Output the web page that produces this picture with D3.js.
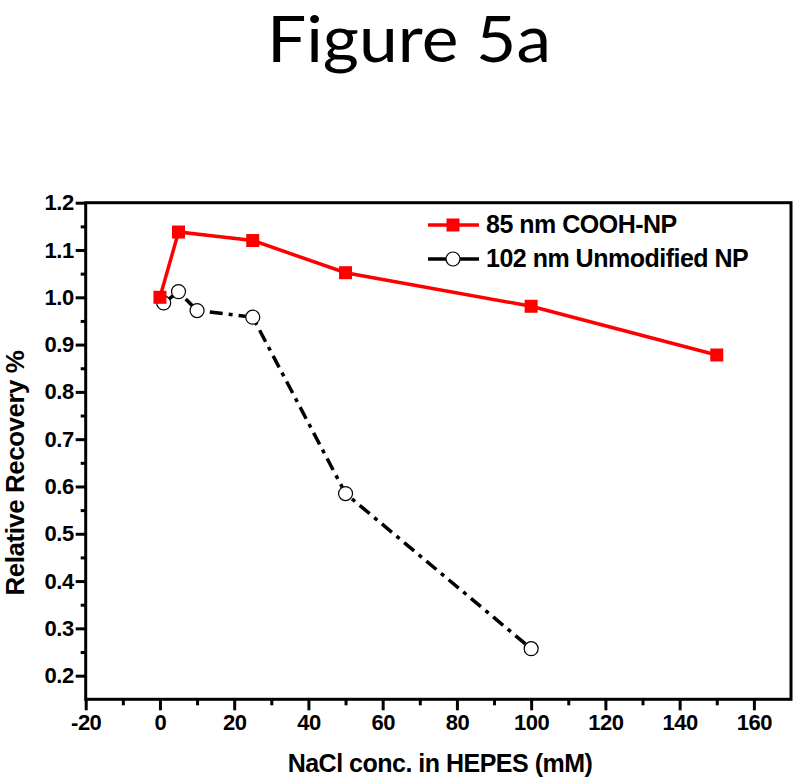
<!DOCTYPE html>
<html>
<head>
<meta charset="utf-8">
<script src="https://cdn.jsdelivr.net/npm/d3@7"></script>
<style>
  body { margin: 0; background: #fff; }
  svg text { font-family: "Liberation Sans", Arial, sans-serif; }
</style>
</head>
<body>
<div id="chart"></div>
<script>
// Data
const cooh_x = [0, 5, 25, 50, 100, 150];
const cooh_y = [1.0, 1.138, 1.12, 1.052, 0.981, 0.878];
const unmod_x = [1, 5, 10, 25, 50, 100];
const unmod_y = [0.988, 1.012, 0.972, 0.958, 0.585, 0.257];
const seriesNames = ["85 nm COOH-NP", "102 nm Unmodified NP"];
const xMajor = [-20, 0, 20, 40, 60, 80, 100, 120, 140, 160];
const xMinor = [-10, 10, 30, 50, 70, 90, 110, 130, 150];
const yMajor = [0.2, 0.3, 0.4, 0.5, 0.6, 0.7, 0.8, 0.9, 1.0, 1.1, 1.2];
const yMinor = [0.25, 0.35, 0.45, 0.55, 0.65, 0.75, 0.85, 0.95, 1.05, 1.15];

const svg = d3
  .select("#chart")
  .append("svg")
  .attr("width", 800)
  .attr("height", 784);

// Scales
const x = d3.scaleLinear().domain([-20, 170]).range([85.7, 791]);
const y = d3.scaleLinear().domain([0.15, 1.2]).range([699.3, 202.7]);

// Title
svg
  .append("text")
  .attr("x", 409)
  .attr("y", 62)
  .attr("text-anchor", "middle")
  .style("font-family", "Lato, 'Open Sans', sans-serif")
  .style("font-size", "64px")
  .attr("textLength", 284)
  .attr("lengthAdjust", "spacingAndGlyphs")
  .text("Figure 5a");

// Axes (major + minor ticks)
const styleAxis = (g) => {
  g.select(".domain").remove();
  g.selectAll("line").attr("stroke", "#000").attr("stroke-width", 3);
};

svg
  .append("g")
  .attr("transform", `translate(0,${y(0.15)})`)
  .call(d3.axisBottom(x).tickValues(xMinor).tickSize(6).tickFormat(""))
  .call(styleAxis);

svg
  .append("g")
  .attr("transform", `translate(0,${y(0.15)})`)
  .call(d3.axisBottom(x).tickValues(xMajor).tickSize(11).tickPadding(4).tickFormat((d) => String(d)))
  .call(styleAxis)
  .selectAll("text")
  .attr("fill", "#000")
  .style("font-size", "22px")
  .style("font-weight", "bold")
  .style("letter-spacing", "-0.5px");

svg
  .append("g")
  .attr("transform", `translate(${x(-20)},0)`)
  .call(d3.axisLeft(y).tickValues(yMinor).tickSize(5).tickFormat(""))
  .call(styleAxis);

svg
  .append("g")
  .attr("transform", `translate(${x(-20)},0)`)
  .call(d3.axisLeft(y).tickValues(yMajor).tickSize(10).tickPadding(2).tickFormat(d3.format(".1f")))
  .call(styleAxis)
  .selectAll("text")
  .attr("fill", "#000")
  .style("font-size", "22px")
  .style("font-weight", "bold")
  .style("letter-spacing", "-0.5px");

// Frame
svg
  .append("rect")
  .attr("x", x(-20))
  .attr("y", y(1.2))
  .attr("width", x(170) - x(-20))
  .attr("height", y(0.15) - y(1.2))
  .attr("fill", "none")
  .attr("stroke", "#000")
  .attr("stroke-width", 3);

// Axis titles
svg
  .append("text")
  .attr("x", 440)
  .attr("y", 772)
  .attr("text-anchor", "middle")
  .style("font-size", "25px")
  .style("font-weight", "bold")
  .style("letter-spacing", "-0.5px")
  .text("NaCl conc. in HEPES (mM)");

svg
  .append("text")
  .attr("transform", "translate(24,473) rotate(-90)")
  .attr("text-anchor", "middle")
  .style("font-size", "26px")
  .style("font-weight", "bold")
  .style("letter-spacing", "-0.5px")
  .text("Relative Recovery %");

// Lines
const line = d3
  .line()
  .x((d) => x(d[0]))
  .y((d) => y(d[1]));

const unmod = unmod_x.map((v, i) => [v, unmod_y[i]]);
const cooh = cooh_x.map((v, i) => [v, cooh_y[i]]);

svg
  .append("path")
  .datum(unmod)
  .attr("d", line)
  .attr("fill", "none")
  .attr("stroke", "#000")
  .attr("stroke-width", 3.5)
  .attr("stroke-dasharray", "13,6,4,6");

svg
  .selectAll(".unmod")
  .data(unmod)
  .enter()
  .append("circle")
  .attr("class", "unmod")
  .attr("cx", (d) => x(d[0]))
  .attr("cy", (d) => y(d[1]))
  .attr("r", 7)
  .attr("fill", "#fff")
  .attr("stroke", "#000")
  .attr("stroke-width", 1.2);

svg
  .append("path")
  .datum(cooh)
  .attr("d", line)
  .attr("fill", "none")
  .attr("stroke", "#ff0000")
  .attr("stroke-width", 3.5);

svg
  .selectAll(".cooh")
  .data(cooh)
  .enter()
  .append("rect")
  .attr("class", "cooh")
  .attr("x", (d) => x(d[0]) - 6.5)
  .attr("y", (d) => y(d[1]) - 6.5)
  .attr("width", 13)
  .attr("height", 13)
  .attr("fill", "#ff0000");

// Legend
const legend = svg.append("g");

legend
  .append("line")
  .attr("x1", 428).attr("x2", 479)
  .attr("y1", 225).attr("y2", 225)
  .attr("stroke", "#ff0000")
  .attr("stroke-width", 3.5);
legend
  .append("rect")
  .attr("x", 446.5).attr("y", 218.5)
  .attr("width", 13).attr("height", 13)
  .attr("fill", "#ff0000");
legend
  .append("text")
  .attr("x", 486).attr("y", 233)
  .style("font-size", "25px")
  .style("font-weight", "bold")
  .style("letter-spacing", "-0.5px")
  .text(seriesNames[0]);

legend
  .append("line")
  .attr("x1", 428).attr("x2", 479)
  .attr("y1", 259).attr("y2", 259)
  .attr("stroke", "#000")
  .attr("stroke-width", 3.5);
legend
  .append("circle")
  .attr("cx", 453).attr("cy", 259)
  .attr("r", 7)
  .attr("fill", "#fff")
  .attr("stroke", "#000")
  .attr("stroke-width", 1.2);
legend
  .append("text")
  .attr("x", 486).attr("y", 267)
  .style("font-size", "25px")
  .style("font-weight", "bold")
  .style("letter-spacing", "-0.5px")
  .text(seriesNames[1]);
</script>
</body>
</html>
